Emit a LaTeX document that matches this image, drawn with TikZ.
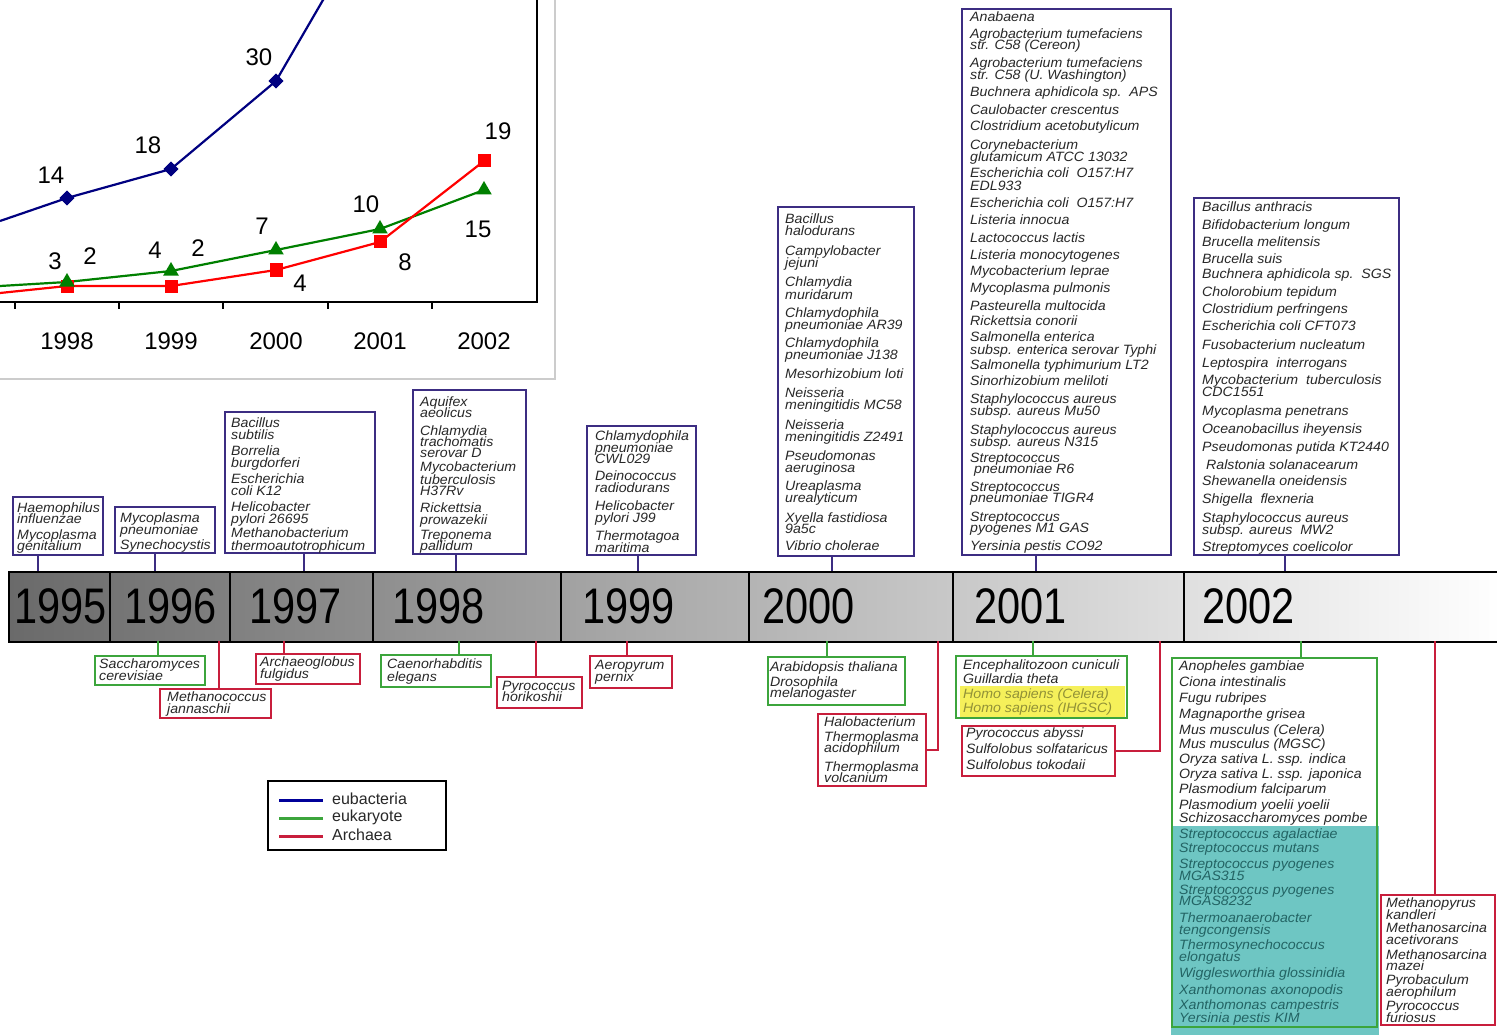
\documentclass[tikz,border=0pt]{standalone}
\usepackage{fontspec}
\setmainfont{Liberation Sans}
\newfontfamily\spfont{Liberation Sans}[FakeStretch=1.05]
\newfontfamily\yrfont{Liberation Sans}[FakeStretch=0.83]
\usetikzlibrary{shapes.geometric}

\definecolor{navyln}{RGB}{0,0,128}
\definecolor{chartgreen}{RGB}{0,128,0}
\definecolor{chartred}{RGB}{255,0,0}
\definecolor{ebord}{RGB}{60,45,130}
\definecolor{gbord}{RGB}{60,165,60}
\definecolor{rbord}{RGB}{200,30,60}
\definecolor{txt}{RGB}{40,40,40}
\definecolor{tealfill}{RGB}{110,198,195}
\definecolor{tealtxt}{RGB}{35,100,100}
\definecolor{hiyel}{RGB}{245,240,90}
\definecolor{yeltxt}{RGB}{145,145,55}
\definecolor{barL}{RGB}{106,106,106}

\tikzset{
  frame/.style={draw, line width=2.2pt, inner sep=0pt, outer sep=0pt, anchor=north west},
  ebox/.style={frame, draw=ebord},
  gbox/.style={frame, draw=gbord},
  rbox/.style={frame, draw=rbord},
  sp/.style={anchor=base west, inner sep=0pt, text=txt,
             font=\spfont\itshape\fontsize{13.5}{13}\selectfont},
  sptl/.style={sp, text=tealtxt},
  spyl/.style={sp, text=yeltxt},
  econn/.style={draw=ebord, line width=1.4pt},
  gconn/.style={draw=gbord, line width=1.4pt},
  rconn/.style={draw=rbord, line width=1.4pt},
  yr/.style={anchor=west, inner sep=0pt, font=\yrfont\fontsize{50}{50}\selectfont},
  clab/.style={inner sep=0pt, font=\fontsize{24}{24}\selectfont},
  dmark/.style={diamond, fill=navyln, minimum size=15pt, inner sep=0pt},
  smark/.style={rectangle, fill=chartred, minimum size=13pt, inner sep=0pt},
  tmark/.style={regular polygon, regular polygon sides=3, fill=chartgreen, minimum size=18pt, inner sep=0pt},
  legtxt/.style={anchor=west, inner sep=0pt, text=txt, font=\fontsize{16}{16}\selectfont},
}

% framed box: name, style, x1, y1, x2, y2
\newcommand\frameat[6]{\node[#2, minimum width={(#5)-(#3)}, minimum height={(#6)-(#4)}] (#1) at (#3,#4) {};}
% list of species lines: name, style, x, {y/text,...}
\newcommand\splines[4]{\foreach \yy/\lbl [count=\k] in {#4}{\node[#2] (#1-\k) at (#3,\yy+4) {\lbl};}}

\begin{document}
\begin{tikzpicture}[x=1pt,y=-1pt]
\useasboundingbox (0,0) rectangle (1497,1035);
\fill[white] (0,0) rectangle (1497,1035);

% ---------- growth chart ----------
\draw[black!20, line width=1.5pt] (0,379) -- (555,379) -- (555,0);
\draw[black, line width=1.5pt] (0,302) -- (537,302) -- (537,0);
\foreach \tx in {15,119,223,328,432} \draw[black, line width=1.2pt] (\tx,302) -- (\tx,309);
\foreach \yx/\yl in {67/1998,171/1999,276/2000,380/2001,484/2002}
  \node[clab] (ax\yl) at (\yx,341) {\yl};

\begin{scope}
\clip (0,0) rectangle (537,301);
\coordinate (e0) at (0,221);
\coordinate (e4) at (330,-12);
\coordinate (k0) at (0,286);
\coordinate (r0) at (0,293);
\node[dmark] (e1) at (67,198) {};
\node[dmark] (e2) at (171,169) {};
\node[dmark] (e3) at (276,81) {};
\draw[navyln, line width=2.2pt] (e0) -- (e1.center) -- (e2.center) -- (e3.center) -- (e4);
\node[dmark] at (e1) {};
\node[dmark] at (e2) {};
\node[dmark] at (e3) {};
\draw[chartgreen, line width=2.2pt] (k0) -- (67,282) coordinate (k1) -- (171,271) coordinate (k2)
  -- (276,250) coordinate (k3) -- (380,229) coordinate (k4) -- (484,190) coordinate (k5);
\draw[chartred, line width=2.2pt] (r0) -- (67,286) coordinate (r1) -- (171,286) coordinate (r2)
  -- (276,270) coordinate (r3) -- (380,242) coordinate (r4) -- (484,161) coordinate (r5);
\foreach \i in {1,...,5} {
  \node[smark] (rm\i) at (r\i) {};
  \node[tmark] (km\i) at (k\i) {};
}
\end{scope}

\node[clab] (v14) at (51,175) {14};
\node[clab] (v18) at (148,145) {18};
\node[clab] (v30) at (259,57) {30};
\node[clab] (v3)  at (55,261) {3};
\node[clab] (v2a) at (90,256) {2};
\node[clab] (v4a) at (155,250) {4};
\node[clab] (v2b) at (198,248) {2};
\node[clab] (v7)  at (262,226) {7};
\node[clab] (v4b) at (300,283) {4};
\node[clab] (v10) at (366,204) {10};
\node[clab] (v8)  at (405,262) {8};
\node[clab] (v19) at (498,131) {19};
\node[clab] (v15) at (478,229) {15};

% ---------- timeline bar ----------
\node[anchor=north west, minimum width=1495, minimum height=70, inner sep=0pt,
      left color=barL, right color=white, draw=black, line width=1.5pt] (bar) at (8,571) {};
\foreach \dx in {110,230,373,561,749,953,1184}
  \draw[black, line width=1.2pt] (\dx,571) -- (\dx,641);
\node[yr] (y95) at (14,606) {1995};
\node[yr] (y96) at (124,606) {1996};
\node[yr] (y97) at (249,606) {1997};
\node[yr] (y98) at (392,606) {1998};
\node[yr] (y99) at (582,606) {1999};
\node[yr] (y00) at (762,606) {2000};
\node[yr] (y01) at (974,606) {2001};
\node[yr] (y02) at (1202,606) {2002};

% ---------- highlights ----------
\fill[tealfill] (1171,826) rectangle (1379,1035);
\fill[hiyel] (960,686) rectangle (1125,717);

% ---------- eubacteria boxes (above the bar) ----------
\frameat{bA}{ebox}{13}{497}{103}{555}
\frameat{bB}{ebox}{115}{507}{215}{553}
\frameat{bC}{ebox}{225}{412}{375}{553}
\frameat{bD}{ebox}{413}{390}{526}{554}
\frameat{bE}{ebox}{587}{426}{696}{555}
\frameat{bF}{ebox}{778}{207}{914}{556}
\frameat{bG}{ebox}{962}{9}{1171}{555}
\frameat{bH}{ebox}{1194}{198}{1399}{555}

\splines{tA}{sp}{17}{508/Haemophilus,519/influenzae,535/Mycoplasma,546/genitalium}
\splines{tB}{sp}{120}{518/Mycoplasma,530/pneumoniae,545/Synechocystis}
\splines{tC}{sp}{231}{423/Bacillus,435/subtilis,451/Borrelia,463/burgdorferi,479/Escherichia,
  491/coli K12,507/Helicobacter,519/pylori 26695,533/Methanobacterium,546/thermoautotrophicum}
\splines{tD}{sp}{420}{402/Aquifex,413/aeolicus,431/Chlamydia,442/trachomatis,453/serovar D,
  467/Mycobacterium,480/tuberculosis,491/H37Rv,508/Rickettsia,520/prowazekii,535/Treponema,546/pallidum}
\splines{tE}{sp}{595}{436/Chlamydophila,448/pneumoniae,459/CWL029,476/Deinococcus,488/radiodurans,
  506/Helicobacter,518/pylori J99,536/Thermotagoa,548/maritima}
\splines{tF}{sp}{785}{220/Bacillus,232/halodurans,251/Campylobacter,263/jejuni,283/Chlamydia,
  295/muridarum,313/Chlamydophila,325/pneumoniae AR39,343/Chlamydophila,355/pneumoniae J138,
  374/Mesorhizobium loti,393/Neisseria,405/meningitidis MC58,425/Neisseria,437/meningitidis Z2491,
  456/Pseudomonas,468/aeruginosa,486/Ureaplasma,498/urealyticum,518/Xyella fastidiosa,529/9a5c,
  546/Vibrio cholerae}
\splines{tG}{sp}{970}{18/Anabaena,35/Agrobacterium tumefaciens,46/str. C58 (Cereon),
  64/Agrobacterium tumefaciens,76/str. C58 (U. Washington),93/Buchnera aphidicola sp.\ \ APS,
  111/Caulobacter crescentus,127/Clostridium acetobutylicum,146/Corynebacterium,
  158/glutamicum ATCC 13032,174/Escherichia coli\ \ O157:H7,187/EDL933,204/Escherichia coli\ \ O157:H7,
  221/Listeria innocua,239/Lactococcus lactis,256/Listeria monocytogenes,272/Mycobacterium leprae,
  288/Mycoplasma pulmonis,306/Pasteurella multocida,321/Rickettsia conorii,337/Salmonella enterica,
  350/subsp. enterica serovar Typhi,365/Salmonella typhimurium LT2,381/Sinorhizobium meliloti,
  399/Staphylococcus aureus,411/subsp. aureus Mu50,430/Staphylococcus aureus,442/subsp. aureus N315,
  458/Streptococcus,469/\ pneumoniae R6,487/Streptococcus,498/pneumoniae TIGR4,517/Streptococcus,
  528/pyogenes M1 GAS,546/Yersinia pestis CO92}
\splines{tH}{sp}{1202}{208/Bacillus anthracis,226/Bifidobacterium longum,243/Brucella melitensis,
  259/Brucella suis,275/Buchnera aphidicola sp.\ \ SGS,292/Cholorobium tepidum,309/Clostridium perfringens,
  326/Escherichia coli CFT073,345/Fusobacterium nucleatum,363/Leptospira\ \ interrogans,
  380/Mycobacterium\ \ tuberculosis,392/CDC1551,411/Mycoplasma penetrans,429/Oceanobacillus iheyensis,
  447/Pseudomonas putida KT2440,465/\ Ralstonia solanacearum,481/Shewanella oneidensis,
  499/Shigella\ \ flexneria,518/Staphylococcus aureus,530/subsp. aureus\ \ MW2,547/Streptomyces coelicolor}

\foreach \b/\cx in {A/38,B/155,C/304,D/456,E/638,F/832,G/1036,H/1285} {
  \coordinate (u\b) at (\cx,571);
  \draw[econn] (b\b.south -| u\b) -- (u\b);
}

% ---------- eukaryote and archaea boxes (below the bar) ----------
\frameat{s1}{gbox}{95}{656}{205}{685}
\frameat{s2}{rbox}{160}{689}{271}{718}
\frameat{s3}{rbox}{256}{654}{360}{684}
\frameat{s4}{gbox}{381}{655}{491}{687}
\frameat{s5}{rbox}{497}{677}{582}{708}
\frameat{s6}{rbox}{590}{656}{672}{688}
\frameat{s7}{gbox}{768}{657}{905}{705}
\frameat{s8}{rbox}{818}{714}{926}{786}
\frameat{s9}{gbox}{956}{656}{1127}{718}
\frameat{s10}{rbox}{962}{726}{1115}{776}
\frameat{s11}{gbox}{1172}{658}{1377}{1027}
\frameat{s12}{rbox}{1381}{895}{1495}{1025}

\splines{w1}{sp}{99}{664/Saccharomyces,676/cerevisiae}
\splines{w2}{sp}{167}{697/Methanococcus,709/jannaschii}
\splines{w3}{sp}{260}{662/Archaeoglobus,674/fulgidus}
\splines{w4}{sp}{387}{664/Caenorhabditis,677/elegans}
\splines{w5}{sp}{502}{686/Pyrococcus,697/horikoshii}
\splines{w6}{sp}{595}{665/Aeropyrum,677/pernix}
\splines{w7}{sp}{770}{667/Arabidopsis thaliana,682/Drosophila,693/melanogaster}
\splines{w8}{sp}{824}{722/Halobacterium,737/Thermoplasma,748/acidophilum,767/Thermoplasma,778/volcanium}
\splines{w9}{sp}{963}{665/Encephalitozoon cuniculi,679/Guillardia theta}
\splines{w9y}{spyl}{963}{694/Homo sapiens (Celera),708/Homo sapiens (IHGSC)}
\splines{w10}{sp}{966}{733/Pyrococcus abyssi,749/Sulfolobus solfataricus,765/Sulfolobus tokodaii}
\splines{w11}{sp}{1179}{666/Anopheles gambiae,682/Ciona intestinalis,698/Fugu rubripes,
  714/Magnaporthe grisea,730/Mus musculus (Celera),744/Mus musculus (MGSC),
  759/Oryza sativa L. ssp. indica,774/Oryza sativa L. ssp. japonica,789/Plasmodium falciparum,
  805/Plasmodium yoelii yoelii,818/Schizosaccharomyces pombe}
\splines{w11t}{sptl}{1179}{834/Streptococcus agalactiae,848/Streptococcus mutans,
  864/Streptococcus pyogenes,876/MGAS315,890/Streptococcus pyogenes,901/MGAS8232,
  918/Thermoanaerobacter,930/tengcongensis,945/Thermosynechococcus,957/elongatus,
  973/Wigglesworthia glossinidia,990/Xanthomonas axonopodis,1005/Xanthomonas campestris,
  1018/Yersinia pestis KIM}
\splines{w12}{sp}{1386}{903/Methanopyrus,915/kandleri,928/Methanosarcina,940/acetivorans,
  955/Methanosarcina,966/mazei,980/Pyrobaculum,992/aerophilum,1006/Pyrococcus,1018/furiosus}

\foreach \b/\cx/\st in {1/158/gconn,2/219/rconn,3/284/rconn,4/459/gconn,5/536/rconn,
                        6/627/rconn,7/827/gconn,9/1033/gconn,11/1301/gconn,12/1435/rconn} {
  \coordinate (d\b) at (\cx,641);
  \draw[\st] (d\b) -- (d\b |- s\b.north);
}
\coordinate (d8) at (938,641);
\draw[rconn] (d8) |- (s8.east);
\coordinate (d10) at (1160,641);
\draw[rconn] (d10) |- (s10.east);

% ---------- legend ----------
\node[frame, draw=black, line width=2pt, minimum width=178, minimum height=69] (legend) at (268,781) {};
\coordinate (lg1) at (279,800);
\coordinate (lg2) at (279,818);
\coordinate (lg3) at (279,836);
\draw[draw=navyln!80!blue, line width=3pt] (lg1) -- ++(44,0);
\draw[draw=gbord, line width=3pt] (lg2) -- ++(44,0);
\draw[draw=rbord, line width=3pt] (lg3) -- ++(44,0);
\node[legtxt] (le1) at (332,799) {eubacteria};
\node[legtxt] (le2) at (332,817) {eukaryote};
\node[legtxt] (le3) at (332,835) {Archaea};
\end{tikzpicture}
\end{document}
